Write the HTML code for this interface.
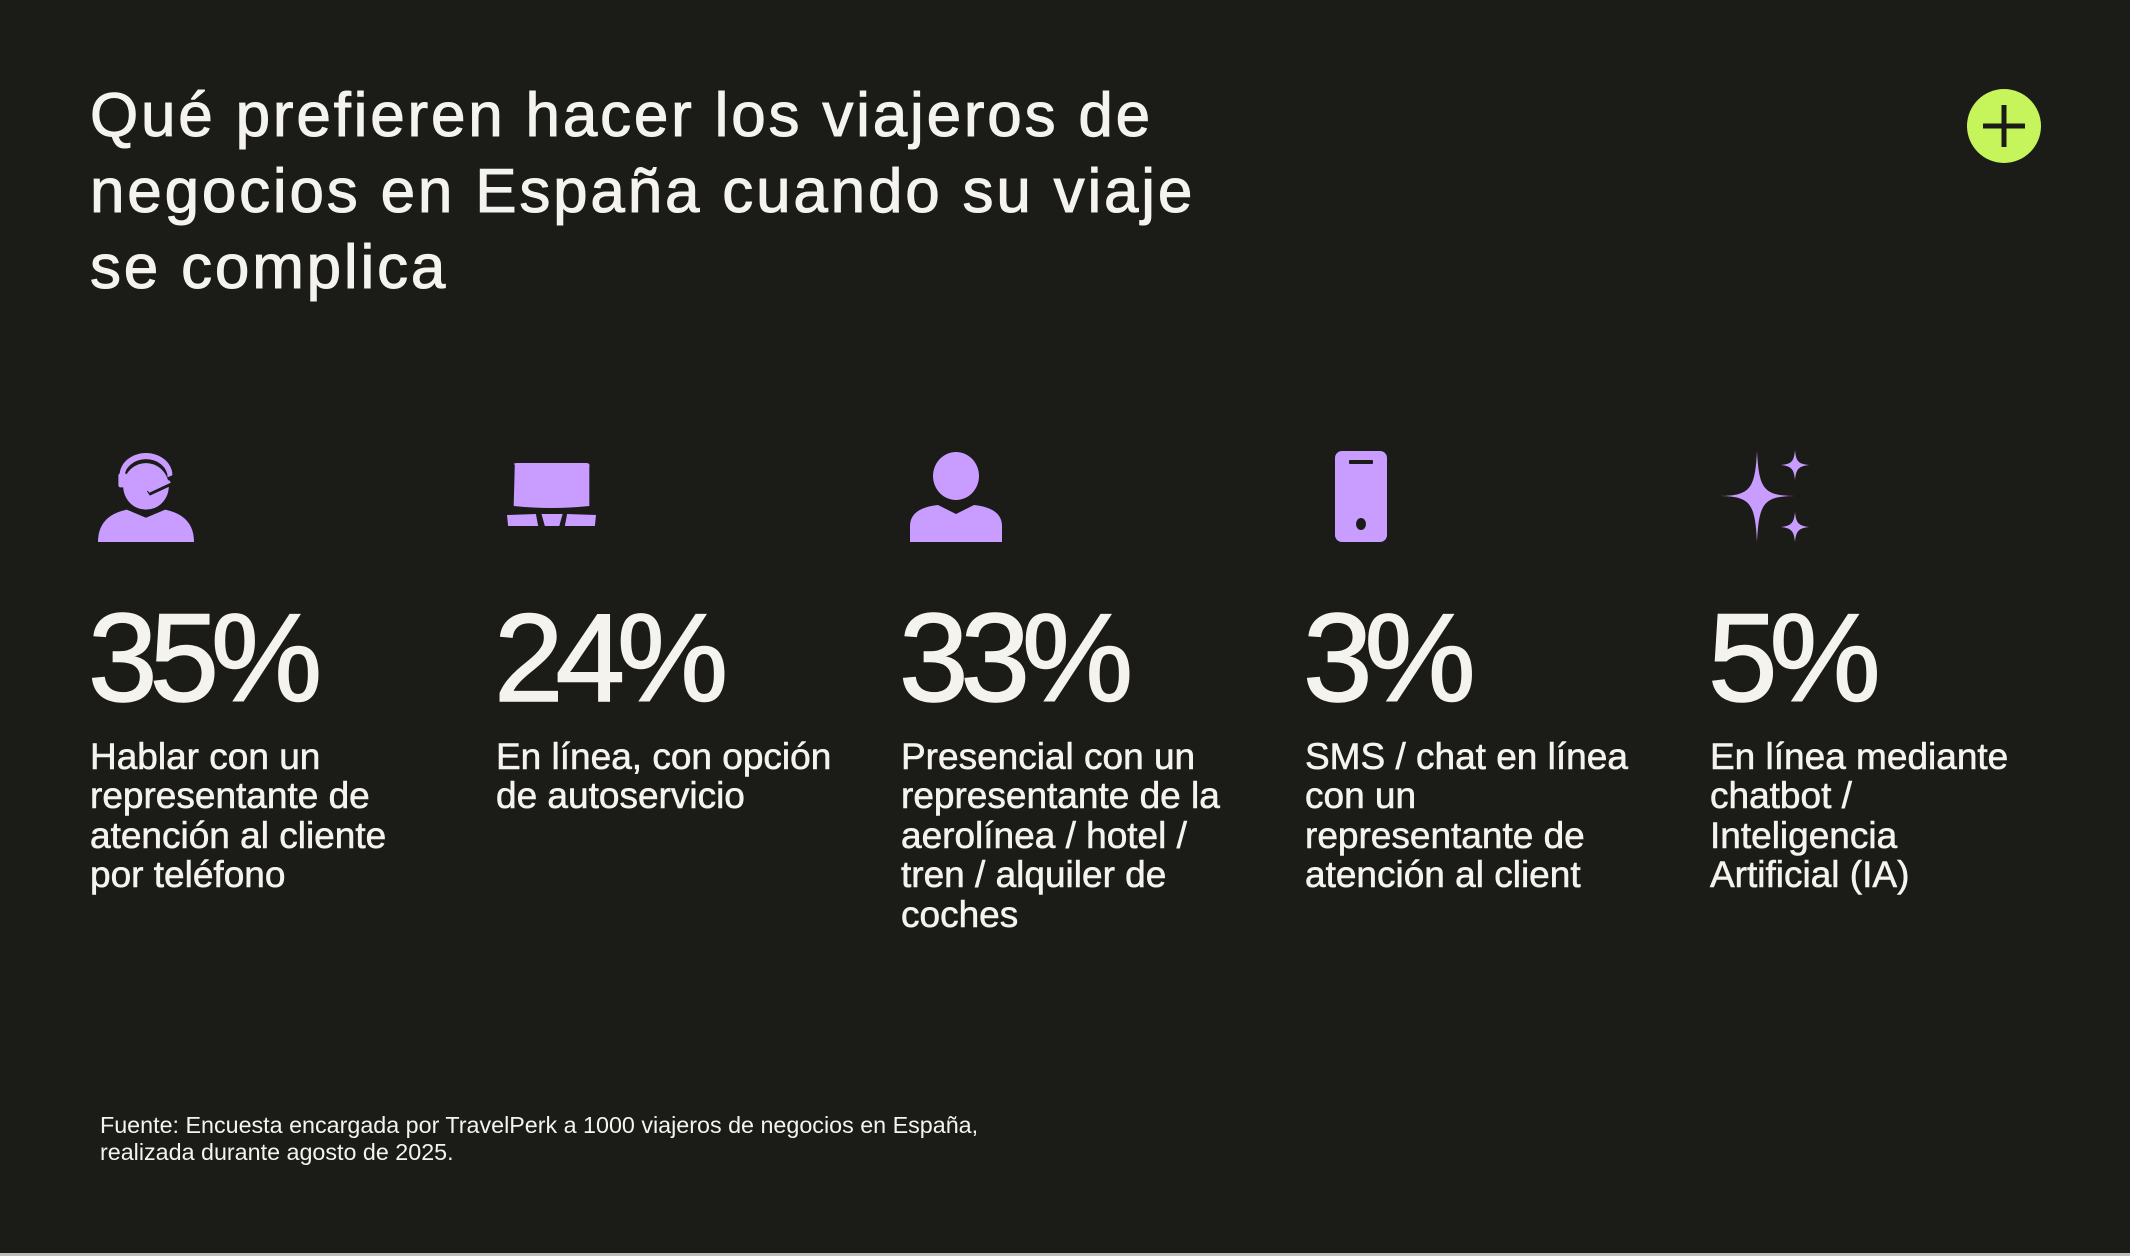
<!DOCTYPE html>
<html><head><meta charset="utf-8">
<style>
html,body{margin:0;padding:0}
body{width:2130px;height:1256px;background:#1b1b17;position:relative;overflow:hidden;font-family:"Liberation Sans",sans-serif;color:#f5f3ee}
.t{position:absolute;left:90px;top:78px;font-size:62px;line-height:76px;font-weight:400;letter-spacing:2.8px;-webkit-text-stroke:1px #f5f3ee}
.p{position:absolute;top:596px;font-size:125px;line-height:125px;letter-spacing:-8px;font-weight:400;-webkit-text-stroke:1.5px #f5f3ee}
.d{position:absolute;top:737px;font-size:37px;line-height:39.4px;letter-spacing:0px;white-space:nowrap;-webkit-text-stroke:0.6px #f5f3ee}
.f{position:absolute;left:100px;top:1112px;font-size:23.3px;line-height:27px}
svg.i{position:absolute}
.strip{position:absolute;left:0;bottom:0;width:2130px;height:3px;background:#bdbdb8}
</style></head><body>
<div class="t">Qué prefieren hacer los viajeros de<br>negocios en España cuando su viaje<br>se complica</div>

<svg style="position:absolute;left:1967px;top:89px" width="74" height="74" viewBox="0 0 74 74">
<circle cx="37" cy="37" r="37" fill="#c5f55a"/>
<rect x="34.5" y="16" width="5" height="42" fill="#1b1b17"/>
<rect x="16" y="34.5" width="42" height="5" fill="#1b1b17"/>
</svg>

<svg class="i" style="left:98px;top:449px" width="96" height="93" viewBox="0 0 80 92" preserveAspectRatio="none">
<g fill="#c99cff">
<ellipse cx="40" cy="37" rx="19" ry="23"/>
<path d="M18 26 A22 22 0 0 1 62 26 L58 28 A18 18 0 0 0 22 28Z"/>
<rect x="17" y="24" width="7" height="14" rx="2"/>
<path d="M0 92 Q0 66 24 60 L40 68 L56 60 Q80 66 80 92Z"/>
</g>
<path d="M60 34 L42 44" stroke="#1b1b17" stroke-width="5"/>
<path d="M60 32 L42 42" stroke="#c99cff" stroke-width="3"/>
</svg>

<svg class="i" style="left:507px;top:463px" width="89" height="64" viewBox="0 0 80 64" preserveAspectRatio="none">
<g fill="#c99cff">
<path d="M7 2 Q5 0 9 0 H71 Q75 0 74 4 V43 Q40 47 6 43Z"/>
<path d="M0 52 L26 51 L28 63 L1 63Z"/>
<path d="M31 51 L50 51 L47 63 L34 63Z"/>
<path d="M54 51 L80 52 L79 63 L52 63Z"/>
</g>
</svg>

<svg class="i" style="left:910px;top:452px" width="92" height="90" viewBox="0 0 92 90">
<g fill="#c99cff">
<ellipse cx="46" cy="24" rx="23" ry="24"/>
<path d="M0 90 V74 Q0 56 28 53 L46 62 L64 53 Q92 56 92 74 V90Z"/>
</g>
</svg>

<svg class="i" style="left:1335px;top:451px" width="52" height="91" viewBox="0 0 52 91">
<rect x="0" y="0" width="52" height="91" rx="7" fill="#c99cff"/>
<rect x="14" y="9" width="24" height="4" rx="1" fill="#1b1b17"/>
<ellipse cx="26" cy="73" rx="5" ry="6" fill="#1b1b17"/>
</svg>

<svg class="i" style="left:1717px;top:450px" width="92" height="92" viewBox="0 0 92 92">
<g fill="#c99cff">
<path d="M45 1 C47 40 52 46 85 46 C52 46 47 52 45 92 C43 52 38 46 5 46 C38 46 43 40 45 1Z" transform="translate(-5,0)"/>
<path d="M78 0 C79 12 82 14 92 15 C82 16 79 19 78 30 C77 19 74 16 64 15 C74 14 77 12 78 0Z"/>
<path d="M78 62 C79 73 82 76 92 77 C82 78 79 81 78 92 C77 81 74 78 64 77 C74 76 77 73 78 62Z"/>
</g>
</svg>

<div class="p" style="left:88px">35%</div>
<div class="p" style="left:494px">24%</div>
<div class="p" style="left:899px">33%</div>
<div class="p" style="left:1303px">3%</div>
<div class="p" style="left:1708px">5%</div>

<div class="d" style="left:90px">Hablar con un<br>representante de<br>atención al cliente<br>por teléfono</div>
<div class="d" style="left:496px">En línea, con opción<br>de autoservicio</div>
<div class="d" style="left:901px">Presencial con un<br>representante de la<br>aerolínea / hotel /<br>tren / alquiler de<br>coches</div>
<div class="d" style="left:1305px">SMS / chat en línea<br>con un<br>representante de<br>atención al client</div>
<div class="d" style="left:1710px">En línea mediante<br>chatbot /<br>Inteligencia<br>Artificial (IA)</div>

<div class="f">Fuente: Encuesta encargada por TravelPerk a 1000 viajeros de negocios en España,<br>realizada durante agosto de 2025.</div>
<div class="strip"></div>
</body></html>
